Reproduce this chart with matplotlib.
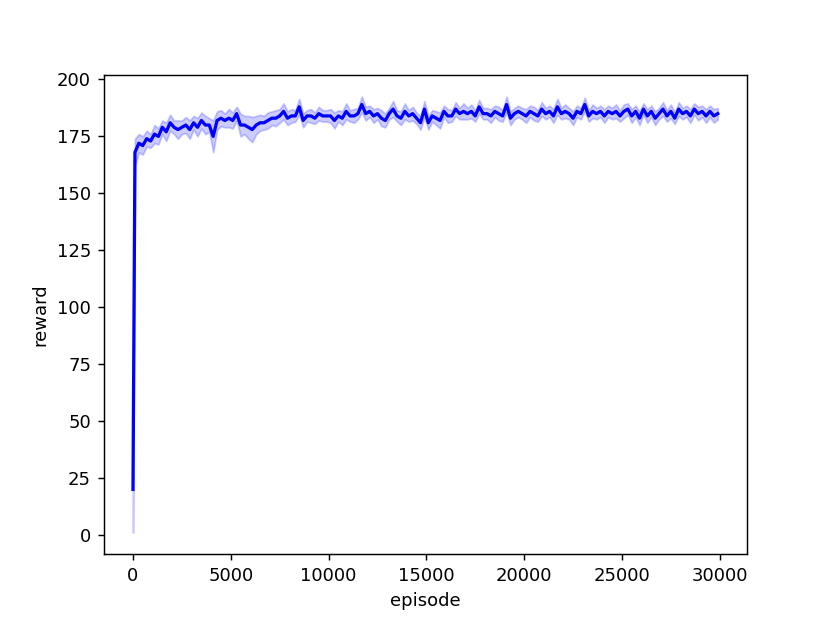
import numpy as np
import matplotlib
matplotlib.use('Agg')
from matplotlib import pyplot as plt

# episodes: first log at 0, then every 200 steps starting at 100
episodes = np.r_[0, np.arange(100, 30000, 200)]

reward_mean = [
    20, 168, 172, 171, 174, 173, 176, 175, 179, 177,
    181, 179, 178, 179, 180, 178, 181, 179, 182, 180,
    180, 175, 182, 183, 182, 183, 182, 185, 180, 180,
    179, 178, 180, 181, 181, 182, 183, 183, 184, 186,
    183, 184, 184, 188, 182, 184, 184, 183, 185, 184,
    184, 184, 182, 184, 183, 186, 184, 184, 185, 189,
    185, 186, 184, 185, 183, 182, 185, 187, 184, 183,
    186, 184, 185, 183, 181, 187, 181, 184, 183, 182,
    186, 184, 184, 187, 185, 186, 185, 186, 184, 188,
    185, 185, 184, 186, 185, 184, 189, 183, 185, 186,
    185, 184, 186, 185, 184, 187, 185, 186, 184, 188,
    185, 186, 185, 183, 186, 185, 189, 184, 186, 185,
    186, 184, 186, 185, 186, 184, 186, 187, 184, 186,
    183, 187, 184, 186, 183, 185, 187, 184, 186, 183,
    187, 185, 186, 184, 187, 185, 186, 184, 186, 184,
    185,
]

# spread of the shaded band
reward_std = [
    19, 6, 4, 4, 3.5, 3, 4, 3.5, 3, 4,
    3.5, 3, 4, 3, 3.5, 4, 3, 4, 3.5, 4,
    3, 7, 4, 3.5, 3, 4, 3.5, 3, 5, 4,
    5, 5.5, 4, 3.5, 3, 3.5, 3, 3.5, 3, 3.5,
    3, 3, 2.5, 3.5, 3, 2.5, 3, 2.5, 3, 2.5,
    2.5, 3, 3.5, 2.5, 3, 3.5, 2.5, 3, 2.5, 3.5,
    3, 2.5, 3, 2.5, 3.5, 3, 2.5, 3.5, 2.5, 3,
    3.5, 2.5, 3, 2.5, 3, 3.5, 3, 2.5, 3, 3.5,
    2.5, 3, 2.5, 3, 2.5, 3.5, 2.5, 3, 2.5, 3,
    2.5, 2.5, 3, 2.5, 3, 2.5, 3.5, 3, 2.5, 2.5,
    2.5, 3, 2.5, 3, 2.5, 3, 2.5, 2.5, 3, 3.5,
    2.5, 3, 2.5, 3, 2.5, 2.5, 3, 2.5, 3, 2.5,
    2.5, 3, 2.5, 2.5, 3, 2.5, 3, 2.5, 3, 2.5,
    3, 2.5, 3, 2.5, 3, 2.5, 3, 2.5, 3, 2.5,
    3, 2.5, 2.5, 3, 2.5, 3, 2.5, 3, 2.5, 3,
    2.5,
]

mean = np.array(reward_mean, dtype=float)
std = np.array(reward_std, dtype=float)

fig, ax = plt.subplots(figsize=(830 / 130, 623 / 130), dpi=130)
ax.plot(episodes, mean, color='blue', lw=1.8)
ax.fill_between(episodes, mean - std, mean + std, color='blue', alpha=0.2)
ax.set_xlabel('episode')
ax.set_ylabel('reward')
ax.set_xticks([0, 5000, 10000, 15000, 20000, 25000, 30000])
ax.set_yticks([0, 25, 50, 75, 100, 125, 150, 175, 200])

fig.savefig('out.png', dpi=130)
